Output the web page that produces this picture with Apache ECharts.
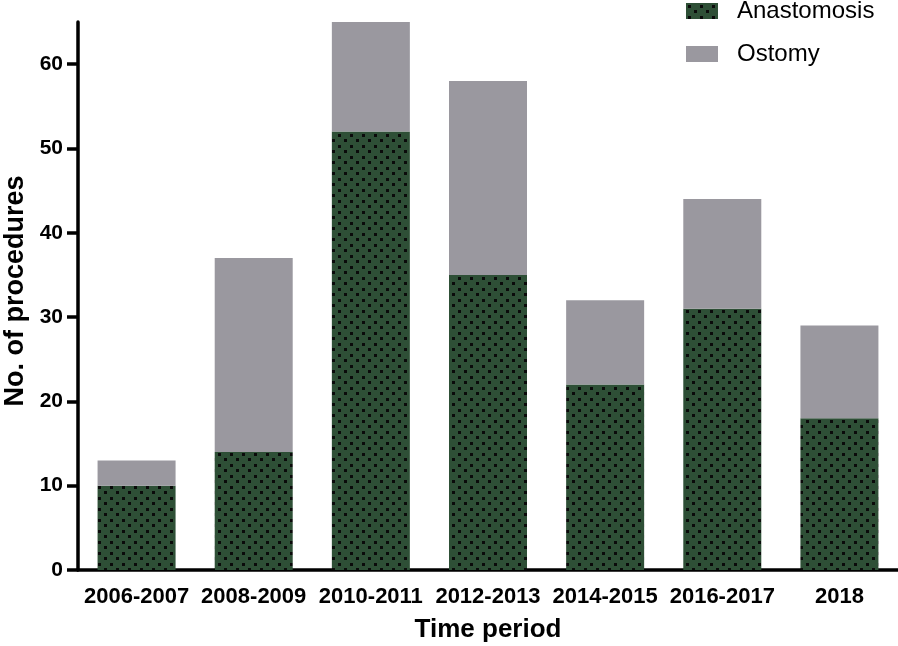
<!DOCTYPE html>
<html><head><meta charset="utf-8">
<script src="https://cdn.jsdelivr.net/npm/echarts@6/dist/echarts.min.js"></script>
<style>html,body{margin:0;padding:0;background:#fff}#c{width:898px;height:646px}</style>
</head><body><div id="c"></div>
<script>
const categories = ['2006-2007','2008-2009','2010-2011','2012-2013','2014-2015','2016-2017','2018'];
const anastomosis = [10, 14, 52, 35, 22, 31, 18];
const ostomy = [3, 23, 13, 23, 10, 13, 11];
const yTicks = [0, 10, 20, 30, 40, 50, 60];

const FONT = 'Arial, "Liberation Sans", sans-serif';
const GREEN = '#2e4f36';
const GREY = '#9a989f';

function dotPattern() {
  const c = document.createElement('canvas');
  c.width = 12; c.height = 11;
  const g = c.getContext('2d');
  g.fillStyle = GREEN; g.fillRect(0, 0, 12, 11);
  g.fillStyle = '#0a0a0a';
  g.fillRect(2, 2, 3, 3);
  g.fillRect(8, 7, 3, 3);
  return c;
}
const pat = { image: dotPattern(), repeat: 'repeat' };

const chart = echarts.init(document.getElementById('c'), null, { renderer: 'canvas' });
chart.setOption({
  animation: false,
  backgroundColor: '#fff',
  grid: { left: 78, right: 0, top: 22, bottom: 76, containLabel: false, outerBoundsMode: 'none' },
  legend: {
    orient: 'vertical', left: 681, top: -6,
    icon: 'rect',
    itemWidth: 32, itemHeight: 16, itemGap: 19,
    textStyle: { fontFamily: FONT, fontSize: 24, color: '#000', padding: [0, 0, 0, 14] },
    data: ['Anastomosis', 'Ostomy']
  },
  xAxis: {
    type: 'category', data: categories,
    name: 'Time period', nameLocation: 'middle', nameGap: 47,
    nameTextStyle: { fontFamily: FONT, fontSize: 26, fontWeight: 'bold', color: '#000' },
    axisLine: { lineStyle: { color: '#000', width: 3.5 } },
    axisTick: { alignWithLabel: true, interval: 0, length: 10, lineStyle: { color: '#000', width: 3.5 } },
    axisLabel: { interval: 0, fontFamily: FONT, fontSize: 22, fontWeight: 'bold', color: '#000', margin: 16 }
  },
  yAxis: {
    type: 'value', min: 0, max: 65, interval: 10,
    name: 'No. of procedures', nameLocation: 'middle', nameGap: 44,
    nameTextStyle: { fontFamily: FONT, fontSize: 27, fontWeight: 'bold', color: '#000', padding: [0, 0, 0, 10] },
    axisLine: { show: true, lineStyle: { color: '#000', width: 3.5 } },
    axisTick: { show: true, length: 11, customValues: yTicks, lineStyle: { color: '#000', width: 3.5 } },
    axisLabel: { fontFamily: FONT, fontSize: 21, fontWeight: 'bold', color: '#000', margin: 15, customValues: yTicks },
    splitLine: { show: false }
  },
  series: [
    { name: 'Anastomosis', type: 'bar', stack: 'a', data: anastomosis, barWidth: 78,
      itemStyle: { color: pat } },
    { name: 'Ostomy', type: 'bar', stack: 'a', data: ostomy, barWidth: 78,
      itemStyle: { color: GREY } }
  ]
});
</script></body></html>
